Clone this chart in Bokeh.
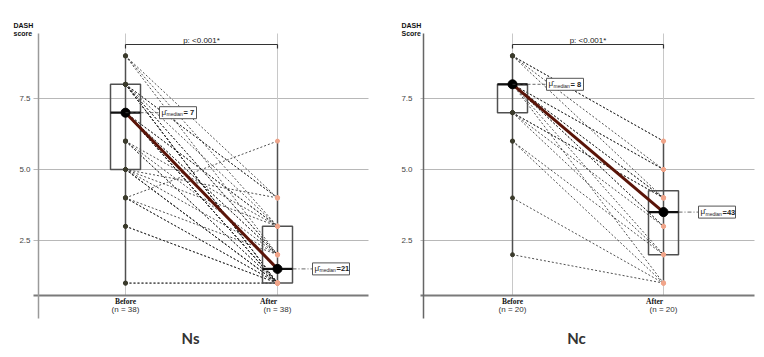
from bokeh.plotting import figure
from bokeh.models import Range1d
from bokeh.layouts import row
from bokeh.embed import file_html
from bokeh.resources import INLINE
from bokeh.core.properties import value
import numpy as np

# ---------------- data ----------------
categories = ["Before", "After"]

ns_before = [9, 9, 9,
             8, 8, 8, 8, 8, 8, 8, 8, 8,
             7, 7, 7, 7, 7, 7, 7, 7,
             6, 6, 6, 6,
             5, 5, 5, 5, 5, 5,
             4, 4, 4, 4,
             3, 3,
             1, 1]
ns_after = [4, 3, 2,
            4, 4, 3, 2, 2, 1, 1, 1, 1,
            3, 3, 2, 2, 1, 1, 1, 1,
            3, 2, 1, 1,
            4, 3, 2, 1, 1, 1,
            6, 2, 1, 1,
            1, 1,
            1, 1]

nc_before = [9, 9, 9, 9,
             8, 8, 8, 8, 8, 8, 8, 8,
             7, 7, 7, 7,
             6, 6,
             4,
             2]
nc_after = [6, 6, 5, 4,
            5, 5, 4, 4, 3, 2, 1, 3,
            4, 4, 3, 2,
            2, 1,
            1,
            1]

ns_n_labels = ["(n = 38)", "(n = 38)"]
nc_n_labels = ["(n = 20)", "(n = 20)"]
ytick_values = [2.5, 5.0, 7.5]
ytick_labels = ["2.5", "5.0", "7.5"]
p_text = "p: <0.001*"
median_symbol = "μ̂"
median_subscript = "median"
ns_median_values = ["= 7", "=21"]
nc_median_values = ["= 8", "=43"]
panel_titles = ["Ns", "Nc"]
ylabel_lines_ns = ["DASH", "score"]
ylabel_lines_nc = ["DASH", "Score"]

# ---------------- layout constants ----------------
PY = 28.4            # px per y unit
Y_REF_PAGE = 240     # page y of value 2.5
FIG_W, FIG_H = 382, 357


def vy(page_y):
    return 2.5 + (Y_REF_PAGE - page_y) / PY


y_end = vy(0)
y_start = vy(FIG_H)


def make_panel(before, after, n_labels, med_values, title, ylab, fig_left,
               px, before_page_x, frame_l, frame_r, axis_page_x, axis_color,
               tick_label_right, title_x, ylab_left):
    def vx(page_x):
        return 1 + (page_x - before_page_x) / px

    xs = vx(fig_left)
    xe = vx(fig_left + FIG_W)

    p = figure(width=FIG_W, height=FIG_H, output_backend="svg",
               toolbar_location=None, x_axis_location=None, y_axis_location=None,
               x_range=Range1d(xs, xe), y_range=Range1d(y_start, y_end),
               min_border=0)
    p.outline_line_color = None
    p.background_fill_color = "white"
    p.grid.visible = False

    b = np.array(before, dtype=float)
    a = np.array(after, dtype=float)
    xb, xa = 1.0, 2.0
    axis_y = vy(295)
    top_y = vy(33)
    bottom_y = vy(318)

    # horizontal grid lines
    n = len(ytick_values)
    p.segment(x0=[vx(frame_l)] * n, y0=ytick_values, x1=[vx(frame_r)] * n,
              y1=ytick_values, line_color="#b8b8b8", line_width=1)
    # y tick labels
    p.text(x=[vx(tick_label_right)] * n, y=ytick_values, text=ytick_labels,
           text_align="right", text_baseline="middle", text_font_size="8px",
           text_font=value("Liberation Sans"), text_color="#444444")
    # vertical grid lines at categories
    p.segment(x0=[xb, xa], y0=[axis_y] * 2, x1=[xb, xa], y1=[top_y] * 2,
              line_color="#c8c8c8", line_width=1)
    # axis lines
    p.segment(x0=[vx(frame_l)], y0=[axis_y], x1=[vx(frame_r)], y1=[axis_y],
              line_color="#7a7a7a", line_width=2)
    p.segment(x0=[vx(axis_page_x)], y0=[top_y], x1=[vx(axis_page_x)], y1=[bottom_y],
              line_color=axis_color, line_width=1.5)

    # whiskers (min to max)
    p.segment(x0=[xb, xa], y0=[b.min(), a.min()], x1=[xb, xa], y1=[b.max(), a.max()],
              line_color="#505050", line_width=1.5)

    # paired lines
    p.segment(x0=[xb] * len(b), y0=b, x1=[xa] * len(a), y1=a,
              line_color="#222222", line_width=0.8, line_dash="2 2")

    # boxes
    hw = 15 / px
    q1 = [np.quantile(b, 0.25), np.quantile(a, 0.25)]
    q3 = [np.quantile(b, 0.75), np.quantile(a, 0.75)]
    med = [np.median(b), np.median(a)]
    p.quad(left=[xb - hw, xa - hw], right=[xb + hw, xa + hw], bottom=q1, top=q3,
           fill_color=None, line_color="#505050", line_width=1.5)
    p.segment(x0=[xb - hw, xa - hw], y0=med, x1=[xb + hw, xa + hw], y1=med,
              line_color="#111111", line_width=2.2)

    # points
    p.scatter(x=[xb] * len(b), y=b, size=4, fill_color="#3b3b2c",
              line_color="#3b3b2c")
    p.scatter(x=[xa] * len(a), y=a, size=4, fill_color="#f0a58a",
              line_color="#f0a58a")

    # median connecting line and dots
    p.line(x=[xb, xa], y=med, line_color="#5a1408", line_width=3)
    p.scatter(x=[xb, xa], y=med, size=9, fill_color="black", line_color="black")

    # median labels with connectors
    lx = [xb + 34 / px, xa + 35 / px]
    p.segment(x0=[xb], y0=[med[0]], x1=[lx[0]], y1=[med[0]],
              line_color="#444444", line_width=0.8, line_dash="3 2")
    p.segment(x0=[xa + hw], y0=[med[1]], x1=[lx[1]], y1=[med[1]],
              line_color="#444444", line_width=0.8, line_dash="4 2 1 2")
    lw = 37 / px
    lh = 12 / PY
    p.quad(left=lx, right=[v + lw for v in lx],
           bottom=[m - lh / 2 for m in med], top=[m + lh / 2 for m in med],
           fill_color="white", line_color="#555555", line_width=1)
    p.text(x=[v + 2 / px for v in lx], y=[m + 0.5 / PY for m in med],
           text=[median_symbol] * 2, text_align="left", text_baseline="middle",
           text_font_size="8px", text_font=value("Liberation Sans"),
           text_color="#222222")
    p.text(x=[v + 7 / px for v in lx], y=[m - 1.5 / PY for m in med],
           text=[median_subscript] * 2, text_align="left", text_baseline="middle",
           text_font_size="5px", text_font=value("Liberation Sans"),
           text_color="#222222")
    p.text(x=[v + 24 / px for v in lx], y=med, text=med_values,
           text_align="left", text_baseline="middle", text_font_size="7.5px",
           text_font=value("Liberation Sans"), text_font_style="bold",
           text_color="#222222")

    # significance bracket
    by = vy(44)
    p.segment(x0=[xb], y0=[by], x1=[xa], y1=[by], line_color="#333333", line_width=1.2)
    p.segment(x0=[xb, xa], y0=[by] * 2, x1=[xb, xa], y1=[vy(48)] * 2,
              line_color="#333333", line_width=1.2)
    p.text(x=[(xb + xa) / 2], y=[vy(40)], text=[p_text], text_align="center",
           text_baseline="middle", text_font_size="8px",
           text_font=value("Liberation Sans"), text_color="#222222")

    # category labels
    p.text(x=[xb, xa - 9 / px], y=[vy(300.5)] * 2, text=categories,
           text_align="center", text_baseline="middle", text_font_size="7.5px",
           text_font=value("Liberation Serif"), text_font_style="bold",
           text_color="#111111")
    p.text(x=[xb, xa], y=[vy(309)] * 2, text=n_labels,
           text_align="center", text_baseline="middle", text_font_size="8px",
           text_font=value("Liberation Sans"), text_color="#333333")

    # y label (top-left)
    p.text(x=[vx(ylab_left)] * 2, y=[vy(25), vy(33)], text=ylab,
           text_align="left", text_baseline="middle", text_font_size="7px",
           text_font=value("Liberation Sans"), text_font_style="bold",
           text_color="#111111")

    # panel title
    p.text(x=[vx(title_x)], y=[vy(337)], text=[title], text_align="center",
           text_baseline="middle", text_font_size="15px",
           text_font=value("Lato"), text_font_style="bold", text_color="#333333")
    return p


p1 = make_panel(ns_before, ns_after, ns_n_labels, ns_median_values,
                panel_titles[0], ylabel_lines_ns, fig_left=0, px=152,
                before_page_x=125, frame_l=33, frame_r=368, axis_page_x=38,
                axis_color="#9a9a9a", tick_label_right=30, title_x=190,
                ylab_left=13)

p2 = make_panel(nc_before, nc_after, nc_n_labels, nc_median_values,
                panel_titles[1], ylabel_lines_nc, fig_left=382, px=151,
                before_page_x=512, frame_l=420, frame_r=754, axis_page_x=423,
                axis_color="#666666", tick_label_right=412, title_x=576,
                ylab_left=401)

layout = row(p1, p2)
open("out.html", "w").write(file_html(layout, INLINE))
